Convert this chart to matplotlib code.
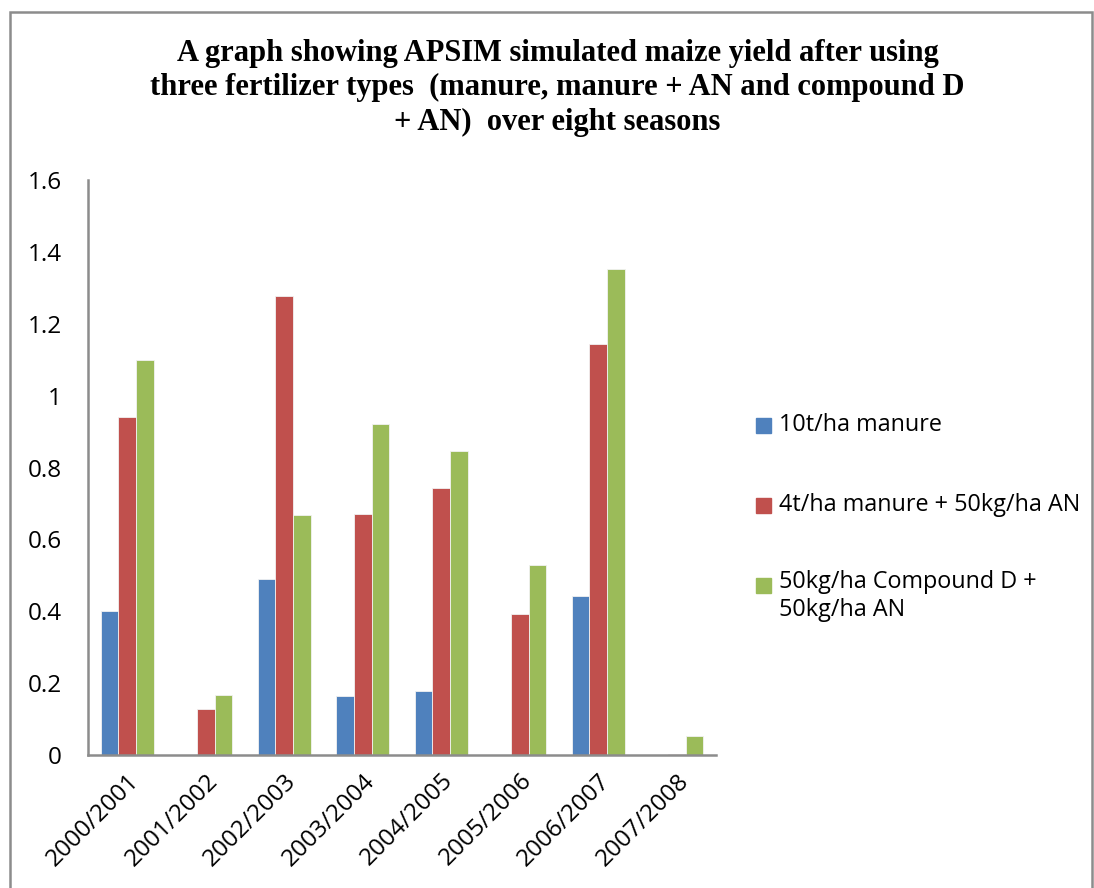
import numpy as np
import matplotlib.pyplot as plt
from matplotlib.patches import Rectangle

seasons = ["2000/2001", "2001/2002", "2002/2003", "2003/2004",
           "2004/2005", "2005/2006", "2006/2007", "2007/2008"]
manure_10t = [0.40, 0.0, 0.49, 0.163, 0.177, 0.0, 0.443, 0.0]
manure_4t_an = [0.94, 0.128, 1.277, 0.671, 0.743, 0.393, 1.145, 0.004]
compound_d_an = [1.10, 0.167, 0.668, 0.921, 0.846, 0.529, 1.352, 0.052]

labels = ["10t/ha manure", "4t/ha manure + 50kg/ha AN",
          "50kg/ha Compound D +\n50kg/ha AN"]
colors = ["#4F81BD", "#C0504D", "#9BBB59"]
yticks = [0, 0.2, 0.4, 0.6, 0.8, 1, 1.2, 1.4, 1.6]
ytick_labels = ["0", "0.2", "0.4", "0.6", "0.8", "1", "1.2", "1.4", "1.6"]

W, H = 1094, 888
fig = plt.figure(figsize=(W / 100, H / 100), dpi=100)
ax = fig.add_axes([88 / W, 1 - 755 / H, (716 - 88) / W, (755 - 180) / H])

x = np.arange(len(seasons))
bw = 0.225
series = [manure_10t, manure_4t_an, compound_d_an]
for i, (vals, c) in enumerate(zip(series, colors)):
    ax.bar(x + (i - 1) * bw, vals, bw, color=c, edgecolor="#f2f2f2", linewidth=0.6)

ax.set_xlim(-0.5, len(seasons) - 0.5)
ax.set_ylim(0, 1.6)
ax.set_yticks(yticks)
ax.set_yticklabels(ytick_labels)
ax.set_xticks(x)
ax.set_xticklabels(seasons, rotation=45, ha="right", va="top", rotation_mode="anchor")
ax.tick_params(axis="both", length=0)
ax.tick_params(axis="y", pad=19, labelsize=17.5)
ax.tick_params(axis="x", pad=10, labelsize=17.5)
for lab in ax.get_xticklabels() + ax.get_yticklabels():
    lab.set_family("Open Sans")
for s in ["top", "right"]:
    ax.spines[s].set_visible(False)
for s in ["left", "bottom"]:
    ax.spines[s].set_color("#8c8c8c")
    ax.spines[s].set_linewidth(1.8)

# manual legend (Excel style, square aligned with first line)
leg_y = [425, 505, 585]
for lab, c, yy in zip(labels, colors, leg_y):
    fig.patches.append(Rectangle((756 / W, 1 - (yy + 8) / H), 15 / W, 15 / H,
                                 transform=fig.transFigure, color=c))
    fig.text(779 / W, 1 - yy / H, lab, fontsize=16.8, family="Open Sans",
             va="top" if "\n" in lab else "center", ha="left",
             linespacing=1.25)
fig.texts[-1].set_y(1 - (585 - 15) / H)

fig.text(0.5 * (160 + 955) / W, 1 - 88 / H,
         "A graph showing APSIM simulated maize yield after using\n"
         "three fertilizer types  (manure, manure + AN and compound D\n"
         "+ AN)  over eight seasons",
         ha="center", va="center", fontsize=22, fontweight="bold",
         family="Liberation Serif", linespacing=1.24)

# chart border
fig.patches.append(Rectangle((10 / W, -0.05), (1092 - 10) / W, 1.05 - 12 / H,
                             transform=fig.transFigure, fill=False,
                             edgecolor="#8c8c8c", linewidth=1.8))

fig.savefig("out.png", dpi=100)
